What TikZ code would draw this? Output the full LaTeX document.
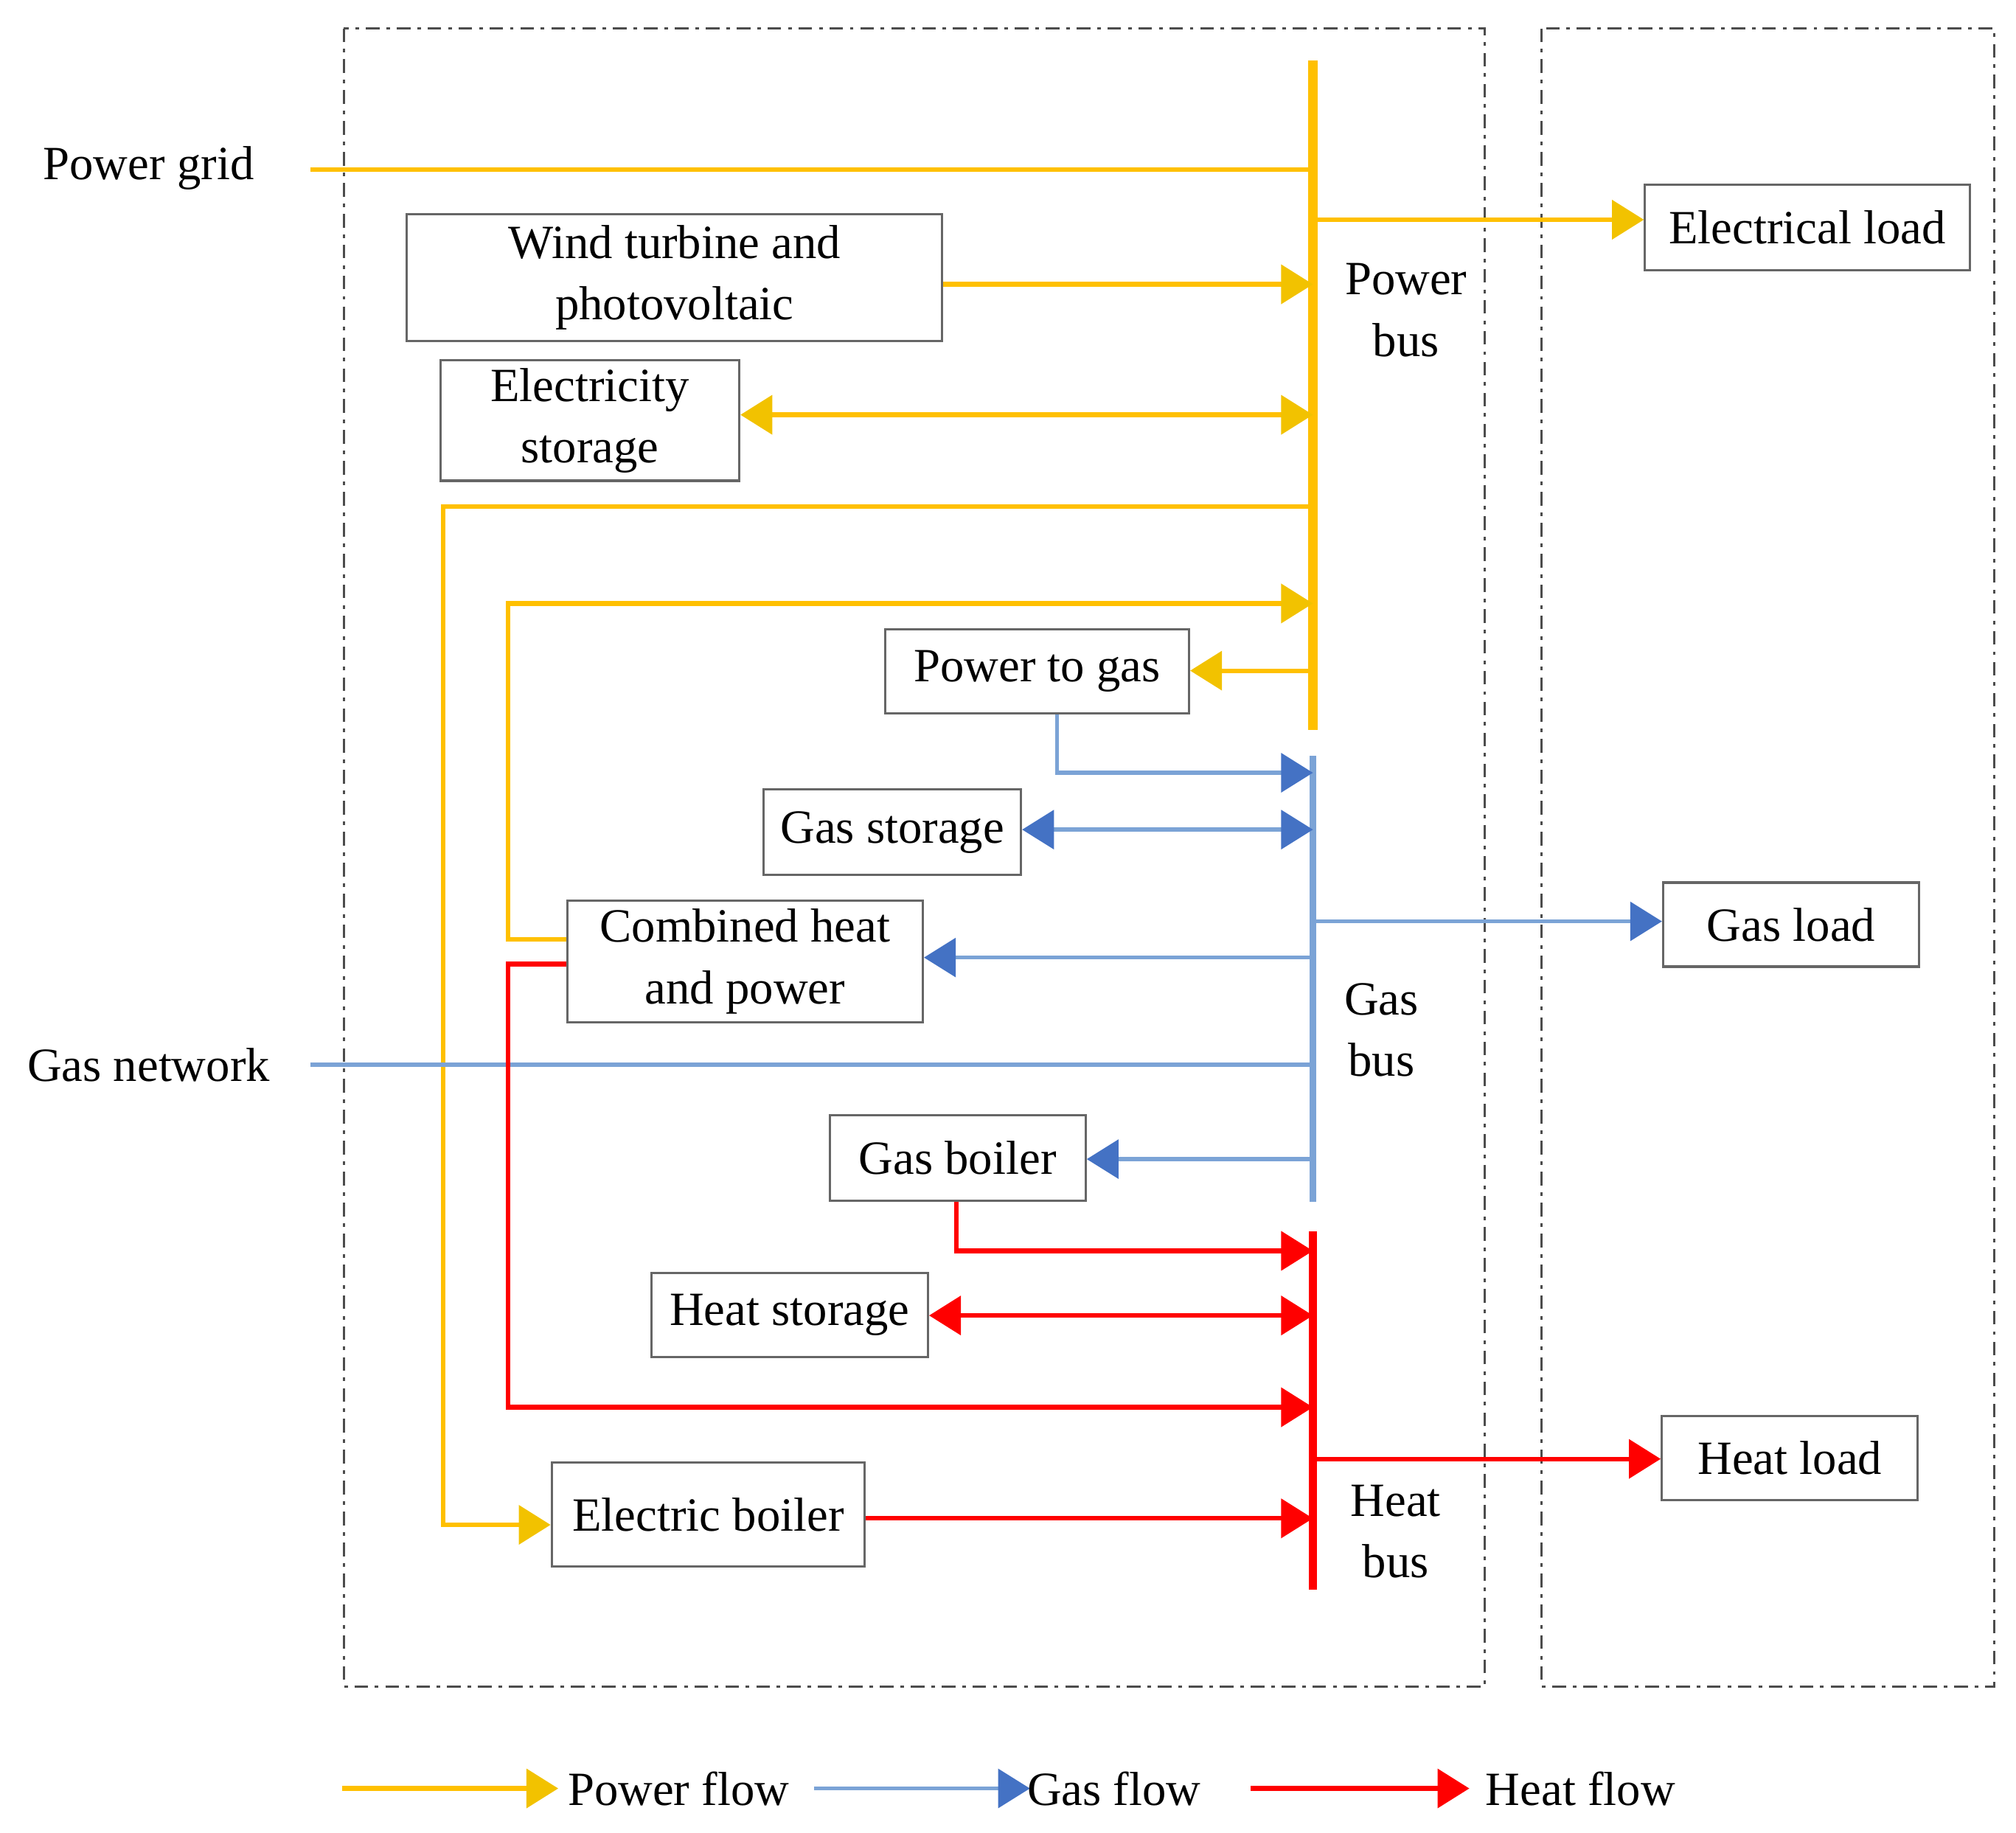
\documentclass[tikz,border=0pt]{standalone}
\usepackage{fontspec}
\setmainfont{Liberation Serif}
\usetikzlibrary{arrows.meta}
\definecolor{pw}{HTML}{FFC000}
\definecolor{pwh}{HTML}{F2C200}
\definecolor{gs}{HTML}{7BA3D6}
\definecolor{gsh}{HTML}{4472C4}
\definecolor{ht}{HTML}{FF0000}
\begin{document}
\begin{tikzpicture}[x=0.01cm,y=-0.01cm,font=\fontsize{10.5}{13.5}\selectfont,
 box/.style={draw=black!60,line width=0.5pt,inner sep=0pt,align=center},
 txt/.style={align=center,inner sep=0pt},
 P/.style={draw=pw,line width=1pt,-{Triangle[length=7pt,width=8.5pt,color=pwh]}},
 PP/.style={draw=pw,line width=1pt,{Triangle[length=7pt,width=8.5pt,color=pwh]}-{Triangle[length=7pt,width=8.5pt,color=pwh]}},
 G/.style={draw=gs,line width=0.9pt,-{Triangle[length=7pt,width=8.5pt,color=gsh]}},
 GG/.style={draw=gs,line width=0.9pt,{Triangle[length=7pt,width=8.5pt,color=gsh]}-{Triangle[length=7pt,width=8.5pt,color=gsh]}},
 H/.style={draw=ht,line width=1pt,-{Triangle[length=7pt,width=8.5pt,color=ht]}},
 HH/.style={draw=ht,line width=1pt,{Triangle[length=7pt,width=8.5pt,color=ht]}-{Triangle[length=7pt,width=8.5pt,color=ht]}},
 frame/.style={draw=black!70,line width=0.5pt,dash pattern=on 3pt off 1.5pt on 0.8pt off 1.5pt}]
\useasboundingbox (0,0) rectangle (1560,1418);
\draw[frame] (266,22) rectangle (1149,1305);
\draw[frame] (1193,22) rectangle (1543,1305);
% buses
\draw[pw,line width=2pt] (1016,47) -- (1016,565);
\draw[gs,line width=1.5pt] (1016,585) -- (1016,930);
\draw[ht,line width=1.8pt] (1016,953) -- (1016,1230);
\node[txt] at (1088,240) {Power\\bus};
\node[txt] at (1069,797) {Gas\\bus};
\node[txt] at (1080,1185) {Heat\\bus};
% nodes
\node[txt] (pg) at (115,130) {Power grid};
\node[txt] (gn) at (115,824) {Gas network};
\node[box,minimum width=4.14cm,minimum height=0.98cm] (wt) at (522,215) {Wind turbine and\\photovoltaic};
\node[box,minimum width=2.31cm,minimum height=0.93cm] (es) at (456.5,325.5) {Electricity\\storage};
\node[box,minimum width=2.35cm,minimum height=0.65cm] (p2g) at (802.5,519.5) {Power to gas};
\node[box,minimum width=1.99cm,minimum height=0.66cm] (gst) at (690.5,644) {Gas storage};
\node[box,minimum width=2.75cm,minimum height=0.94cm] (chp) at (576.5,744) {Combined heat\\and power};
\node[box,minimum width=1.98cm,minimum height=0.66cm] (gb) at (741,896) {Gas boiler};
\node[box,minimum width=2.14cm,minimum height=0.65cm] (hs) at (611,1017.5) {Heat storage};
\node[box,minimum width=2.42cm,minimum height=0.80cm] (eb) at (548,1172) {Electric boiler};
\node[box,minimum width=2.51cm,minimum height=0.66cm] (el) at (1398.5,176) {Electrical load};
\node[box,minimum width=1.98cm,minimum height=0.65cm] (gl) at (1386,715.5) {Gas load};
\node[box,minimum width=1.98cm,minimum height=0.65cm] (hl) at (1385,1128.5) {Heat load};
% power flows
\draw[pw,line width=1pt] (240,131) -- (1016,131);
\draw[P] (wt.east |- 0,220) -- (1016,220);
\draw[PP] (es.east |- 0,321) -- (1016,321);
\draw[P] (1016,392) -- (343,392) -- (343,1180) -- (eb.west |- 0,1180);
\draw[P] (chp.west |- 0,727) -- (393,727) -- (393,467) -- (1016,467);
\draw[P] (1016,519) -- (p2g.east |- 0,519);
\draw[P] (1016,170) -- (el.west |- 0,170);
% gas flows
\draw[G] (p2g.south -| 818,0) -- (818,598) -- (1016,598);
\draw[GG] (gst.east |- 0,642) -- (1016,642);
\draw[G] (1016,741) -- (chp.east |- 0,741);
\draw[gs,line width=0.9pt] (240,824) -- (1016,824);
\draw[G] (1016,897) -- (gb.east |- 0,897);
\draw[G] (1016,713) -- (gl.west |- 0,713);
% heat flows
\draw[H] (gb.south -| 740,0) -- (740,968) -- (1016,968);
\draw[HH] (hs.east |- 0,1018) -- (1016,1018);
\draw[H] (chp.west |- 0,746) -- (393,746) -- (393,1089) -- (1016,1089);
\draw[H] (eb.east |- 0,1175) -- (1016,1175);
\draw[H] (1016,1129) -- (hl.west |- 0,1129);
% legend
\draw[P] (265,1384) -- (432,1384);
\node[txt] at (525,1384) {Power flow};
\draw[G] (630,1384) -- (797,1384);
\node[txt] at (862,1384) {Gas flow};
\draw[H] (968,1384) -- (1137,1384);
\node[txt] at (1223,1384) {Heat flow};
\end{tikzpicture}
\end{document}
